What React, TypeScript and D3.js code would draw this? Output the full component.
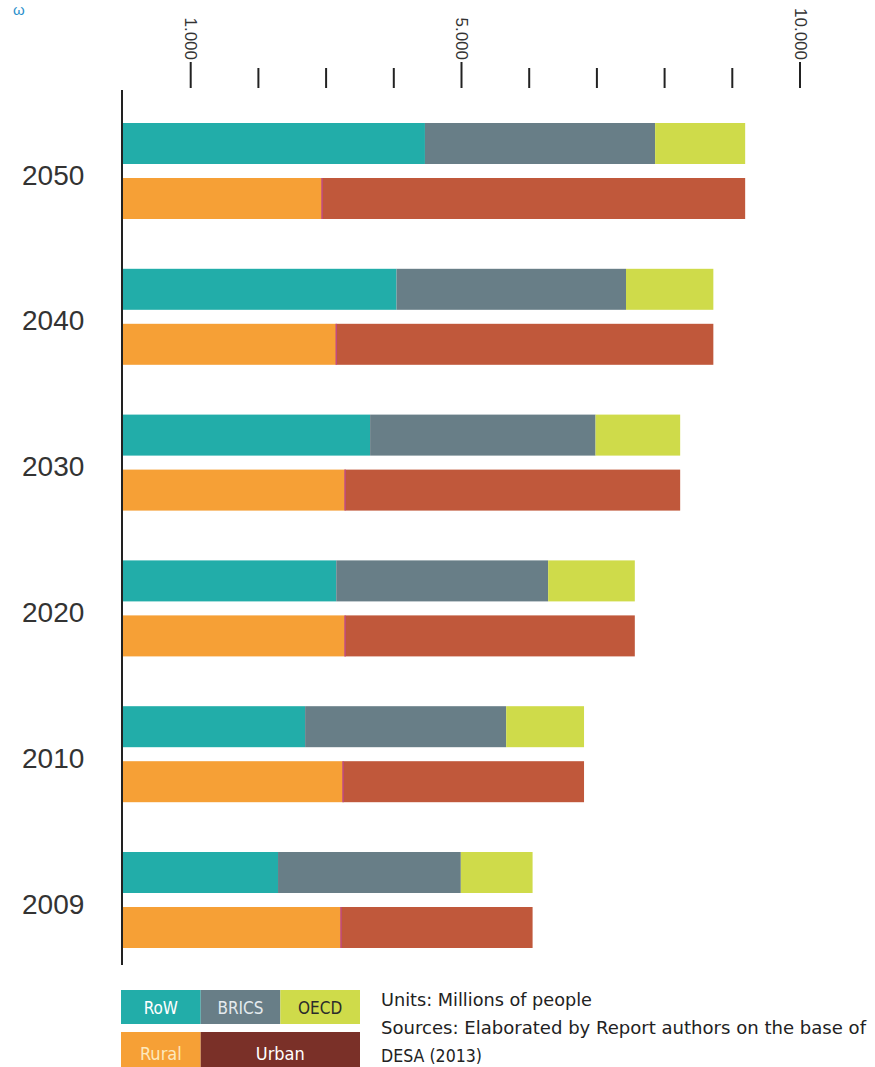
import React from "react";
import * as d3 from "d3";

const years = ["2050", "2040", "2030", "2020", "2010", "2009"];
const rowValues = [4460, 4040, 3650, 3150, 2690, 2290];
const bricsValues = [3400, 3390, 3330, 3130, 2970, 2700];
const oecdValues = [1330, 1290, 1250, 1280, 1150, 1060];
const ruralValues = [2940, 3150, 3280, 3280, 3250, 3220];
const urbanValues = [6250, 5570, 4950, 4280, 3560, 2830];

const tickValues = [1000, 2000, 3000, 4000, 5000, 6000, 7000, 8000, 9000, 10000];
const labeledTicks = [1000, 5000, 10000];
const tickLabels = ["1.000", "5.000", "10.000"];

const regionKeys = ["RoW", "BRICS", "OECD"];
const areaKeys = ["Rural", "Urban"];
const regionColors = ["#22ada9", "#687e87", "#cfdb4a"];
const areaColors = ["#f6a036", "#c0583b"];
const legendAreaColors = ["#f6a036", "#7a3028"];
const legendRegionText = ["#ffffff", "#e4eaee", "#2b2b2b"];
const legendAreaText = ["#fde9bd", "#ffffff"];

const notes = [
  "Units: Millions of people",
  "Sources: Elaborated by Report authors on the base of",
  "DESA (2013)",
];
const noteWidths = [211, 485, 101];

const W = 875;
const H = 1067;

export default function App() {
  const x = d3.scaleLinear().domain([0, 10000]).range([123, 800]);
  const y = d3
    .scaleBand<string>()
    .domain(years)
    .range([123, 123 + 5 * 145.8 + 96])
    .paddingInner(1 - 96 / 145.8)
    .paddingOuter(0);
  const sub = d3
    .scaleBand<string>()
    .domain(["region", "area"])
    .range([0, y.bandwidth()])
    .paddingInner(14 / 55)
    .paddingOuter(0);

  const regionTable = years.map((yr, i) => ({
    year: yr,
    RoW: rowValues[i],
    BRICS: bricsValues[i],
    OECD: oecdValues[i],
  }));
  const areaTable = years.map((yr, i) => ({
    year: yr,
    Rural: ruralValues[i],
    Urban: urbanValues[i],
  }));
  const regionStack = d3.stack<any>().keys(regionKeys)(regionTable);
  const areaStack = d3.stack<any>().keys(areaKeys)(areaTable);

  const narrow = "'Liberation Sans Narrow', 'DejaVu Sans Condensed', 'Roboto Condensed', Arial, sans-serif";
  const sans = "'Liberation Sans', Arial, sans-serif";

  const legX = d3.scaleLinear().domain([0, 3]).range([121, 360]);

  return (
    <svg
      width={W}
      height={H}
      style={{ position: "absolute", left: 0, top: 0, display: "block", background: "#fff" }}
    >
      {/* cropped title glyph */}
      <text x={13} y={15} fontFamily={sans} fontSize={15} fill="#2a8fcb">ω</text>

      {/* ticks */}
      {tickValues.map((t) => {
        const major = labeledTicks.includes(t);
        return (
          <line
            key={"t" + t}
            x1={x(t)}
            x2={x(t)}
            y1={major ? 62 : 68}
            y2={88}
            stroke="#222"
            strokeWidth={2}
          />
        );
      })}
      {labeledTicks.map((t, i) => (
        <text
          key={"tl" + t}
          transform={`translate(${x(t)},60) rotate(90)`}
          textAnchor="end"
          dominantBaseline="central"
          fontFamily={sans}
          fontSize={17}
          fill="#333"
        >
          {tickLabels[i]}
        </text>
      ))}

      {/* bars */}
      {regionStack.map((series, k) =>
        series.map((d, i) => (
          <rect
            key={"r" + k + "-" + i}
            x={x(d[0])}
            width={x(d[1]) - x(d[0])}
            y={(y(years[i]) as number) + (sub("region") as number)}
            height={sub.bandwidth()}
            fill={regionColors[k]}
          />
        ))
      )}
      {areaStack.map((series, k) =>
        series.map((d, i) => (
          <rect
            key={"a" + k + "-" + i}
            x={x(d[0])}
            width={x(d[1]) - x(d[0])}
            y={(y(years[i]) as number) + (sub("area") as number)}
            height={sub.bandwidth()}
            fill={areaColors[k]}
          />
        ))
      )}
      {/* thin divider between rural and urban */}
      {years.map((yr, i) => (
        <line
          key={"dv" + yr}
          x1={x(ruralValues[i])}
          x2={x(ruralValues[i])}
          y1={(y(yr) as number) + (sub("area") as number)}
          y2={(y(yr) as number) + (sub("area") as number) + sub.bandwidth()}
          stroke="#c04a82"
          strokeWidth={1.5}
        />
      ))}

      {/* axis line */}
      <line x1={122} x2={122} y1={90} y2={965} stroke="#222" strokeWidth={2} />

      {/* year labels */}
      {years.map((yr) => (
        <text
          key={"y" + yr}
          x={22}
          y={(y(yr) as number) + y.bandwidth() / 2 + 4}
          dominantBaseline="central"
          fontFamily={sans}
          fontSize={28}
          fill="#333"
        >
          {yr}
        </text>
      ))}

      {/* legend */}
      {regionKeys.map((k, i) => (
        <g key={"lg" + k}>
          <rect x={legX(i)} y={990} width={legX(i + 1) - legX(i)} height={34} fill={regionColors[i]} />
          <text
            x={(legX(i) + legX(i + 1)) / 2}
            y={1008}
            textAnchor="middle"
            dominantBaseline="central"
            fontFamily={narrow}
            fontStretch="condensed"
            fontSize={17}
            fill={legendRegionText[i]}
          >
            {k}
          </text>
        </g>
      ))}
      {areaKeys.map((k, i) => {
        const x0 = i === 0 ? legX(0) : legX(1);
        const x1 = i === 0 ? legX(1) : legX(3);
        return (
          <g key={"la" + k}>
            <rect x={x0} y={1032} width={x1 - x0} height={40} fill={legendAreaColors[i]} />
            <text
              x={(x0 + x1) / 2}
              y={1053}
              textAnchor="middle"
              dominantBaseline="central"
              fontFamily={narrow}
              fontStretch="condensed"
              fontSize={18}
              fill={legendAreaText[i]}
            >
              {k}
            </text>
          </g>
        );
      })}

      {/* notes */}
      {notes.map((n, i) => (
        <text
          key={"n" + i}
          x={381}
          y={1006 + i * 28}
          fontFamily={narrow}
          fontStretch="condensed"
          fontSize={17}
          fill="#222"
          textLength={noteWidths[i]}
          lengthAdjust="spacingAndGlyphs"
        >
          {n}
        </text>
      ))}
    </svg>
  );
}
